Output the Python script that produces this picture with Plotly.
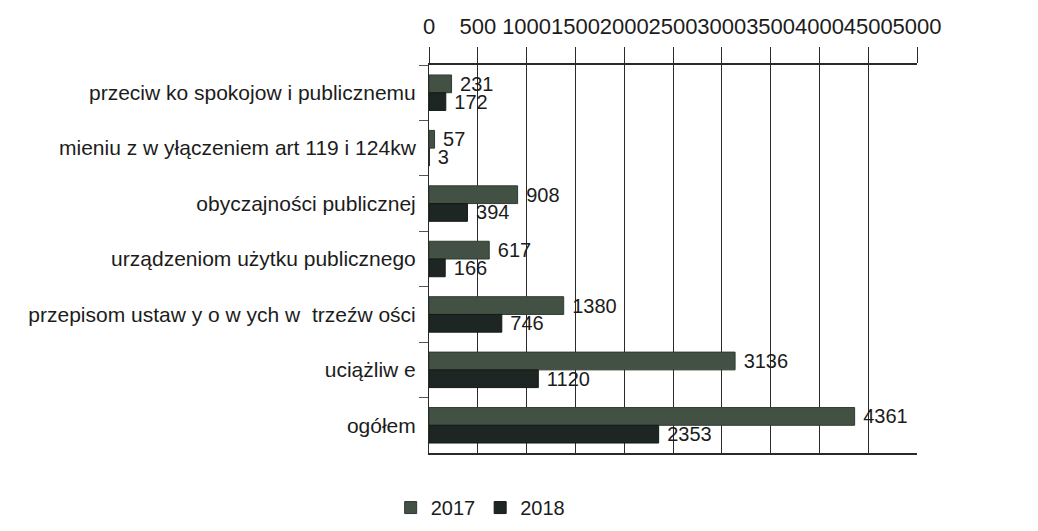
import plotly.graph_objects as go

kategorie = [
    "przeciw ko spokojow i publicznemu",
    "mieniu z w yłączeniem art 119 i 124kw",
    "obyczajności publicznej",
    "urządzeniom użytku publicznego",
    "przepisom ustaw y o w ych w  trzeźw ości",
    "uciążliw e",
    "ogółem",
]
wartosci_2017 = [231, 57, 908, 617, 1380, 3136, 4361]
wartosci_2018 = [172, 3, 394, 166, 746, 1120, 2353]
ticki_x = [0, 500, 1000, 1500, 2000, 2500, 3000, 3500, 4000, 4500, 5000]

FONT = "Liberation Sans, Arial, sans-serif"
TEKST = "#1c1c1c"

# strona ma 8px marginesu body, wiec figura jest mniejsza od okna
SZER, WYS = 1022, 515


def slupki(nazwa, wartosci, kolor, obrys):
    return go.Bar(
        y=kategorie,
        x=wartosci,
        orientation="h",
        name=nazwa,
        text=[" " + str(v) for v in wartosci],
        textposition="outside",
        constraintext="none",
        cliponaxis=False,
        textfont=dict(size=20, color=TEKST, family=FONT),
        marker=dict(color=kolor, line=dict(color=obrys, width=1)),
    )


trace_2017 = slupki("2017", wartosci_2017, "#435145", "#2f3a31")
trace_2018 = slupki("2018", wartosci_2018, "#1d2622", "#141a17")

layout = go.Layout(
    width=SZER,
    height=WYS,
    barmode="group",
    bargap=0.36,
    bargroupgap=0,
    plot_bgcolor="white",
    paper_bgcolor="white",
    font=dict(family=FONT, color=TEKST),
    margin=dict(l=421, r=113, t=57, b=70, autoexpand=False),
    xaxis=dict(
        side="top",
        range=[0, 5000],
        tickvals=ticki_x,
        ticktext=[str(t) for t in ticki_x],
        tickangle=0,
        tickfont=dict(size=22, color=TEKST),
        showgrid=True,
        gridcolor="#2a2a2a",
        gridwidth=1,
        showline=True,
        linecolor="#2a2a2a",
        linewidth=2,
        mirror=True,
        ticks="outside",
        ticklen=16,
        tickwidth=1,
        tickcolor="#2a2a2a",
        ticklabelstandoff=4,
        zeroline=False,
    ),
    yaxis=dict(
        autorange="reversed",
        tickfont=dict(size=21, color=TEKST),
        showline=True,
        linecolor="#2a2a2a",
        linewidth=1,
        ticks="outside",
        tickson="boundaries",
        ticklen=9,
        tickcolor="#555555",
        ticklabelstandoff=8,
        showgrid=False,
    ),
    legend=dict(
        orientation="h",
        xref="container",
        yref="container",
        x=0.462,
        xanchor="center",
        y=0.03,
        yanchor="middle",
        font=dict(size=20, color=TEKST),
        traceorder="normal",
        itemwidth=30,
    ),
    showlegend=True,
)

fig = go.Figure(data=[trace_2017, trace_2018], layout=layout)
fig.write_html("out.html")
